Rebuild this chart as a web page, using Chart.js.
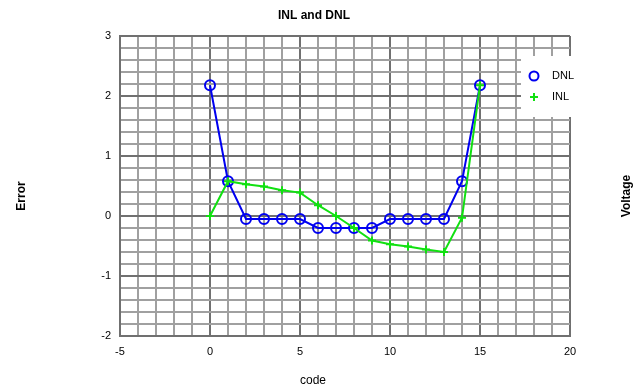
<!DOCTYPE html>
<html>
<head>
<meta charset="utf-8">
<script src="https://cdn.jsdelivr.net/npm/chart.js@4"></script>
<style>
html,body{margin:0;padding:0;background:#fff;}
#wrap{width:644px;height:391px;position:relative;}
</style>
</head>
<body>
<div id="wrap"><canvas id="c" width="644" height="391"></canvas></div>
<script>
const codes = [0,1,2,3,4,5,6,7,8,9,10,11,12,13,14,15];
const dnl = [2.18,0.58,-0.05,-0.05,-0.05,-0.05,-0.2,-0.2,-0.2,-0.2,-0.05,-0.05,-0.05,-0.05,0.58,2.18];
const inl = [0,0.58,0.53,0.49,0.43,0.39,0.18,0,-0.2,-0.41,-0.47,-0.51,-0.56,-0.6,-0.03,2.18];
const xTickLabels = [-5,0,5,10,15,20];
const yTickLabels = [-2,-1,0,1,2,3];
const titleText = 'INL and DNL';
const xTitle = 'code';
const yTitle = 'Error';
const y2Title = 'Voltage';
const seriesNames = ['DNL','INL'];

const FONT = '"Liberation Sans", Arial, sans-serif';
const BLUE = '#0000f0';
const GREEN = '#11e011';
const MAJOR = '#707070';
const MINOR = '#a0a0a0';

function pts(xs, ys){ return xs.map((x,i)=>({x:x,y:ys[i]})); }
function isMajorX(v){ return xTickLabels.some(t=>Math.abs(t-v)<1e-6); }
function isMajorY(v){ return yTickLabels.some(t=>Math.abs(t-v)<1e-6); }

const textPlugin = {
  id:'texts',
  afterDraw(chart){
    const ctx = chart.ctx;
    const ca = chart.chartArea;
    ctx.save();
    ctx.fillStyle = '#000';
    ctx.textAlign = 'center';
    ctx.textBaseline = 'middle';
    ctx.font = 'bold 12px ' + FONT;
    ctx.fillText(titleText, 314, 16);
    ctx.font = '12px ' + FONT;
    ctx.fillText(xTitle, 313, 381);
    ctx.font = 'bold 12px ' + FONT;
    ctx.save(); ctx.translate(22,196); ctx.rotate(-Math.PI/2); ctx.fillText(yTitle,0,0); ctx.restore();
    ctx.save(); ctx.translate(627,196); ctx.rotate(-Math.PI/2); ctx.fillText(y2Title,0,0); ctx.restore();
    // legend
    const lx = 521, ly = 56, lw = 58, lh = 61;
    ctx.fillStyle = '#fff';
    ctx.fillRect(lx, ly, lw, lh);
    ctx.lineWidth = 2;
    ctx.strokeStyle = BLUE;
    ctx.beginPath(); ctx.arc(534, 76, 4.5, 0, Math.PI*2); ctx.stroke();
    ctx.strokeStyle = GREEN;
    ctx.beginPath(); ctx.moveTo(530,97); ctx.lineTo(538,97); ctx.moveTo(534,93); ctx.lineTo(534,101); ctx.stroke();
    ctx.fillStyle = '#000';
    ctx.textAlign = 'left';
    ctx.font = '11px ' + FONT;
    ctx.fillText(seriesNames[0], 552, 76);
    ctx.fillText(seriesNames[1], 552, 97);
    ctx.restore();
  }
};

new Chart(document.getElementById('c'), {
  type:'scatter',
  data:{
    datasets:[
      {label:seriesNames[0], data:pts(codes,dnl), showLine:true, borderColor:BLUE, backgroundColor:'rgba(0,0,0,0)',
       borderWidth:2, pointStyle:'circle', pointRadius:5, pointBorderWidth:2, pointBorderColor:BLUE, order:1},
      {label:seriesNames[1], data:pts(codes,inl), showLine:true, borderColor:GREEN, backgroundColor:'rgba(0,0,0,0)',
       borderWidth:2, pointStyle:'cross', pointRadius:4, pointBorderWidth:2, pointBorderColor:GREEN, order:0}
    ]
  },
  options:{
    responsive:false,
    animation:false,
    events:[],
    layout:{padding:{top:36,right:74,bottom:0,left:0}},
    plugins:{legend:{display:false}, title:{display:false}, tooltip:{enabled:false}},
    scales:{
      x:{
        type:'linear', min:-5, max:20,
        afterFit(s){ s.height = 55; },
        border:{display:true, color:MAJOR, width:2},
        grid:{drawTicks:false, lineWidth:2, color:(c)=> (c.tick && isMajorX(c.tick.value)) ? MAJOR : MINOR},
        ticks:{stepSize:1, autoSkip:false, maxRotation:0, padding:9, color:'#000', font:{family:FONT, size:11},
          callback:(v)=> isMajorX(v) ? String(Math.round(v)) : ''}
      },
      y:{
        type:'linear', min:-2, max:3,
        afterFit(s){ s.width = 120; },
        border:{display:true, color:MAJOR, width:2},
        grid:{drawTicks:false, lineWidth:2, color:(c)=> (c.tick && isMajorY(c.tick.value)) ? MAJOR : MINOR},
        ticks:{stepSize:0.2, autoSkip:false, padding:9, color:'#000', font:{family:FONT, size:11},
          callback:(v)=> isMajorY(v) ? String(Math.round(v)) : ''}
      }
    }
  },
  plugins:[textPlugin]
});
</script>
</body>
</html>
